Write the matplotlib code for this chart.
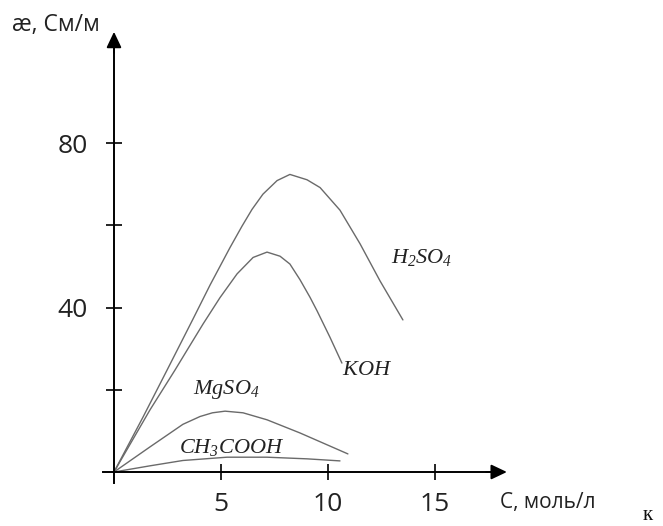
import matplotlib
matplotlib.use("Agg")
import matplotlib.pyplot as plt

plt.rcParams['font.family'] = ['Open Sans', 'DejaVu Sans']
plt.rcParams['mathtext.fontset'] = 'custom'
plt.rcParams['mathtext.rm'] = 'Liberation Serif:italic'
plt.rcParams['mathtext.it'] = 'Liberation Serif:italic'

# values (C in mol/l, conductivity in S/m)
h2so4_c = [0, 1.36, 2.48, 3.69, 4.49, 5.42, 5.98, 6.45, 6.96, 7.62, 8.22, 9.02, 9.63, 10.56, 11.5, 12.43, 13.5]
h2so4_k = [0, 13.4, 24.8, 37.2, 45.5, 54.6, 59.8, 63.9, 67.6, 70.9, 72.4, 71.1, 69.2, 63.7, 55.5, 46.5, 37.0]

koh_c = [0, 1.68, 2.85, 3.41, 4.16, 4.95, 5.75, 6.5, 7.15, 7.76, 8.22, 8.69, 9.16, 9.49, 10.09, 10.65]
koh_k = [0, 15.1, 24.8, 29.6, 36.0, 42.4, 48.2, 52.2, 53.5, 52.5, 50.6, 46.8, 42.5, 39.2, 32.8, 26.5]

mgso4_c = [0, 1.68, 3.22, 4.02, 4.6, 5.19, 6.03, 7.15, 8.69, 10.93]
mgso4_k = [0, 6.1, 11.6, 13.5, 14.4, 14.8, 14.4, 12.7, 9.5, 4.4]

ch3cooh_c = [0, 1.68, 3.22, 5.28, 7.15, 9.02, 10.56]
ch3cooh_k = [0, 1.5, 2.8, 3.6, 3.6, 3.2, 2.7]

x_ticks = [5, 10, 15]
y_ticks = [20, 40, 60, 80]
y_tick_labels = ['', '40', '', '80']

fig = plt.figure(figsize=(6.63, 5.26), dpi=100)
ax = fig.add_axes([0, 0, 1, 1])
ax.set_xlim(-5.327, 25.654)
ax.set_ylim(-13.14, 114.84)

line_color = '#6a6a6a'
for c, k in [(h2so4_c, h2so4_k), (koh_c, koh_k), (mgso4_c, mgso4_k), (ch3cooh_c, ch3cooh_k)]:
    ax.plot(c, k, color=line_color, lw=1.0, solid_capstyle='round', solid_joinstyle='round')

# axes through the origin
ax.spines['left'].set_position(('data', 0))
ax.spines['bottom'].set_position(('data', 0))
ax.spines['right'].set_visible(False)
ax.spines['top'].set_visible(False)
ax.spines['left'].set_bounds(-2.7, 104)
ax.spines['bottom'].set_bounds(-0.5, 17.8)
for s in ['left', 'bottom']:
    ax.spines[s].set_linewidth(1.4)

ax.annotate('', xy=(18.36, 0), xytext=(17.4, 0),
            arrowprops=dict(arrowstyle='-|>,head_length=0.95,head_width=0.45',
                            mutation_scale=10, color='black', lw=1.4,
                            shrinkA=0, shrinkB=0))
ax.annotate('', xy=(0, 107.1), xytext=(0, 102),
            arrowprops=dict(arrowstyle='-|>,head_length=0.95,head_width=0.45',
                            mutation_scale=10, color='black', lw=1.4,
                            shrinkA=0, shrinkB=0))

ax.set_xticks(x_ticks)
ax.set_yticks(y_ticks)
ax.set_yticklabels(y_tick_labels)
ax.tick_params(axis='both', direction='inout', length=12.2, width=1.2,
               labelsize=19, labelcolor='#222222')
ax.tick_params(axis='y', pad=12.6)
ax.tick_params(axis='x', pad=8.3)

ax.text(-2.71, 108.8, 'æ, См/м', fontsize=16.5, ha='center', va='center', color='#222222')
ax.text(18.04, -7.54, 'С, моль/л', fontsize=15, ha='left', va='center', color='#222222')

label_kw = dict(fontsize=16, ha='center', va='center', color='#222222')
ax.text(14.39, 52.07, r'$H_2SO_4$', **label_kw)
ax.text(11.82, 24.82, r'$KOH$', **label_kw)
ax.text(5.23, 19.95, r'$MgSO_4$', **label_kw)
ax.text(5.51, 6.08, r'$CH_3COOH$', **label_kw)

ax.text(24.95, -12.9, 'к', fontsize=15, ha='center', va='bottom',
        family=['Liberation Serif', 'DejaVu Serif'], color='#111111')

fig.savefig('out.png', dpi=100)
